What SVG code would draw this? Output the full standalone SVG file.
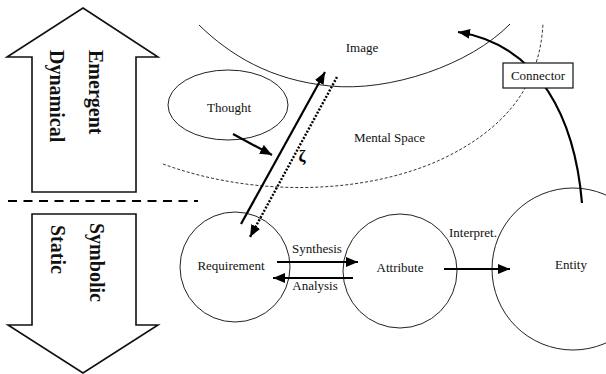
<svg xmlns="http://www.w3.org/2000/svg" width="606" height="374" viewBox="0 0 606 374">
<style>
  .bg { fill: #ffffff; }
  .thin { fill: none; stroke: #222; stroke-width: 1; }
  .dash { fill: none; stroke: #333; stroke-width: 1; stroke-dasharray: 3 2; }
  .shape { fill: #fff; stroke: #111; stroke-width: 1.6; }
  .lbl { font-family: "Liberation Serif", "Times New Roman", serif; font-size: 13px; fill: #111; }
  .zeta { font-family: "Liberation Serif", "DejaVu Serif", serif; font-size: 17px; font-weight: bold; fill: #000; }
  .big { font-family: "Liberation Serif", "Times New Roman", serif; font-size: 20px; font-weight: bold; fill: #111; }
  .arr { fill: none; stroke: #000; stroke-width: 2.2; }
  .dot { fill: none; stroke: #000; stroke-width: 2.4; stroke-dasharray: 2 1.6; }
</style>
<defs>
  <marker id="ah" viewBox="0 0 12 10" refX="12" refY="5" markerWidth="12" markerHeight="10" markerUnits="userSpaceOnUse" orient="auto">
    <path d="M0,0 L12,5 L0,10 Z" fill="#000"/>
  </marker>
</defs>
<rect class="bg" x="0" y="0" width="606" height="374"/>

<g id="emergent-arrow">
  <polygon class="shape" points="83,8 158,57 136,57 136,192 32,192 32,57 7,57"/>
  <text class="big" transform="translate(89,50) rotate(90)">Emergent</text>
  <text class="big" transform="translate(50,50) rotate(90)">Dynamical</text>
</g>
<g id="separator">
  <line x1="8" y1="201" x2="198" y2="201" stroke="#000" stroke-width="2.2" stroke-dasharray="9 6.5"/>
</g>
<g id="symbolic-arrow">
  <polygon class="shape" points="32,214 136,214 136,325 158,325 83,373 8,325 32,325"/>
  <text class="big" transform="translate(90,223) rotate(90)">Symbolic</text>
  <text class="big" transform="translate(51,225) rotate(90)">Static</text>
</g>

<g id="image-space">
  <path class="thin" d="M199,25 C230,55 270,80 330,86 C390,92 470,65 510,24"/>
  <text class="lbl" x="362" y="52" text-anchor="middle">Image</text>
</g>
<g id="mental-space">
  <path class="dash" d="M163,164 C250,196 360,196 440,160 C500,132 540,90 543,23"/>
  <text class="lbl" x="354" y="142">Mental Space</text>
</g>
<g id="thought">
  <ellipse class="thin" cx="228" cy="105" rx="60" ry="35"/>
  <text class="lbl" x="229" y="112" text-anchor="middle">Thought</text>
</g>
<g id="requirement">
  <circle class="thin" cx="235" cy="267" r="55"/>
  <text class="lbl" x="231" y="270" text-anchor="middle">Requirement</text>
</g>
<g id="attribute">
  <circle class="thin" cx="400" cy="271" r="57"/>
  <text class="lbl" x="400" y="272" text-anchor="middle">Attribute</text>
</g>
<g id="entity">
  <circle class="thin" cx="573" cy="269" r="81"/>
  <text class="lbl" x="571" y="269" text-anchor="middle">Entity</text>
</g>

<g id="connectors">
  <line class="arr" x1="233" y1="134" x2="272" y2="155" marker-end="url(#ah)"/>
  <line class="arr" x1="241" y1="224" x2="325" y2="72" marker-end="url(#ah)"/>
  <line class="dot" x1="337" y1="77" x2="250" y2="237" marker-end="url(#ah)"/>
  <line class="arr" x1="277" y1="262" x2="358" y2="262" marker-end="url(#ah)"/>
  <line class="arr" x1="353" y1="278" x2="273" y2="278" marker-end="url(#ah)"/>
  <line class="arr" x1="444" y1="269" x2="510" y2="269" marker-end="url(#ah)"/>
  <path class="arr" stroke-width="2.6" d="M582,203 C575,120 540,45 458,32" marker-end="url(#ah)"/>
  <text class="lbl" x="317" y="253" text-anchor="middle">Synthesis</text>
  <text class="lbl" x="315" y="290" text-anchor="middle">Analysis</text>
  <text class="lbl" x="473" y="237" text-anchor="middle">Interpret.</text>
  <text class="zeta" x="302" y="162" text-anchor="middle">ζ</text>
</g>

<g id="connector-box">
  <rect x="503" y="63" width="70" height="25" fill="#fff" stroke="#111" stroke-width="1.2"/>
  <text class="lbl" x="538" y="80" text-anchor="middle">Connector</text>
</g>
</svg>
